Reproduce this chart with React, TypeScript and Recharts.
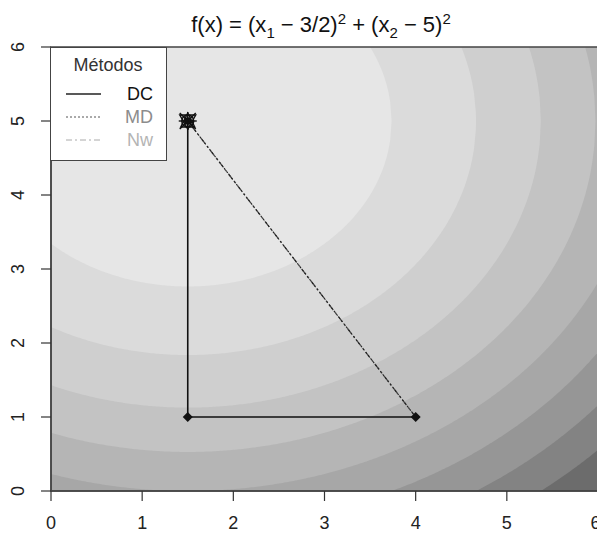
import { ComposedChart, Area, Line, Scatter, XAxis, YAxis, ReferenceArea } from 'recharts'

// f(x) = (x1 - 3/2)^2 + (x2 - 5)^2, filled contour bands every 5 units
const CENTER_X1 = 1.5
const CENTER_X2 = 5
const LEVELS = [5, 10, 15, 20, 25, 30, 35, 40, 45, 50]
const BAND_FILLS = ['#e6e6e6', '#dbdbdb', '#cfcfcf', '#c3c3c3', '#b5b5b5', '#a7a7a7', '#969696', '#838383', '#6c6c6c', '#4d4d4d']
const X_TICKS = [0, 1, 2, 3, 4, 5, 6]
const Y_TICKS = [0, 1, 2, 3, 4, 5, 6]

// iterates of each method
const DC_PATH = [{ x: 4, y: 1 }, { x: 1.5, y: 1 }, { x: 1.5, y: 5 }]
const MD_PATH = [{ x: 4, y: 1 }, { x: 1.5, y: 5 }]
const NW_PATH = [{ x: 4, y: 1 }, { x: 1.5, y: 5 }]
const STEP_POINTS = [{ x: 1.5, y: 1 }, { x: 4, y: 1 }]
const OPTIMUM = [{ x: 1.5, y: 5 }]

const FONT = '"Liberation Sans", Arial, sans-serif'

function levelRange(level: number, x: number): [number, number] | null {
  const d = level - (x - CENTER_X1) ** 2
  if (d < -1e-9) return null
  const r = Math.sqrt(Math.max(0, d))
  return [Math.max(0, CENTER_X2 - r), Math.min(6, CENTER_X2 + r)]
}

function buildContourRows() {
  const xs: number[] = []
  for (let i = 0; i <= 300; i++) xs.push(i / 50)
  for (const l of LEVELS) {
    const r = Math.sqrt(l)
    for (const e of [CENTER_X1 - r, CENTER_X1 + r]) if (e > 0 && e < 6) xs.push(e)
  }
  xs.sort((a, b) => a - b)
  return xs.map((x) => {
    const row: Record<string, number | [number, number] | null> = { x }
    for (const l of LEVELS) row[`l${l}`] = levelRange(l, x)
    return row
  })
}

const contourRows = buildContourRows()

function Diamond({ cx, cy }: { cx?: number; cy?: number }) {
  if (cx == null || cy == null) return null
  return <polygon points={`${cx},${cy - 5} ${cx + 5},${cy} ${cx},${cy + 5} ${cx - 5},${cy}`} fill="#111" />
}

function Optimum({ cx, cy }: { cx?: number; cy?: number }) {
  if (cx == null || cy == null) return null
  return (
    <g stroke="#111" strokeWidth={1.4} fill="none">
      <circle cx={cx} cy={cy} r={6} />
      <circle cx={cx} cy={cy} r={3} fill="#222" />
      <line x1={cx - 8} y1={cy - 8} x2={cx + 8} y2={cy + 8} />
      <line x1={cx - 8} y1={cy + 8} x2={cx + 8} y2={cy - 8} />
      <line x1={cx - 9} y1={cy} x2={cx + 9} y2={cy} />
      <line x1={cx} y1={cy - 9} x2={cx} y2={cy + 9} />
      <polygon points={`${cx - 8},${cy - 6} ${cx + 8},${cy - 6} ${cx},${cy + 8}`} />
      <polygon points={`${cx - 7},${cy + 6} ${cx + 7},${cy + 6} ${cx},${cy - 8}`} />
    </g>
  )
}

function YTick({ x, y, payload }: { x?: number; y?: number; payload?: { value: number } }) {
  return (
    <text
      transform={`translate(${(x ?? 0) - 15},${y}) rotate(-90)`}
      textAnchor="middle"
      fontSize={18}
      fontFamily={FONT}
      fill="#222"
    >
      {payload?.value}
    </text>
  )
}

function LegendBox() {
  const rows = [
    { label: 'DC', color: '#111', stroke: '#222', dash: undefined },
    { label: 'MD', color: '#8c8c8c', stroke: '#555', dash: '2 2' },
    { label: 'Nw', color: '#b4b4b4', stroke: '#aaa', dash: '6 3 2 3' },
  ]
  return (
    <div
      style={{
        position: 'absolute', left: 50, top: 47, width: 117, height: 114, boxSizing: 'border-box',
        border: '1.5px solid #444', background: '#fff', fontFamily: FONT, fontSize: 18,
      }}
    >
      <div style={{ position: 'absolute', left: 0, width: 114, top: 7, textAlign: 'center', color: '#333' }}>Métodos</div>
      {rows.map((r, i) => (
        <div key={r.label} style={{ position: 'absolute', left: 0, top: 35 + i * 23, width: 114, height: 22 }}>
          <svg width={40} height={22} style={{ position: 'absolute', left: 15, top: 0 }}>
            <line x1={0} y1={11} x2={35} y2={11} stroke={r.stroke} strokeWidth={r.dash ? 1 : 1.6} strokeDasharray={r.dash} />
          </svg>
          <span style={{ position: 'absolute', right: 12, top: 0, color: r.color, lineHeight: '22px' }}>{r.label}</span>
        </div>
      ))}
    </div>
  )
}

export default function App() {
  return (
    <div style={{ position: 'absolute', left: 0, top: 0, width: 597, height: 533, overflow: 'hidden', background: '#fff' }}>
      <ComposedChart width={600} height={533} data={contourRows} margin={{ top: 47, right: 2, bottom: 0, left: 0 }}>
        <XAxis
          dataKey="x"
          type="number"
          domain={[0, 6]}
          ticks={X_TICKS}
          allowDataOverflow
          height={42}
          tickSize={10}
          tickMargin={15}
          axisLine={{ stroke: '#444', strokeWidth: 1.5 }}
          tickLine={{ stroke: '#333', strokeWidth: 1.2 }}
          tick={{ fontSize: 18, fill: '#222', fontFamily: FONT }}
        />
        <YAxis
          type="number"
          domain={[0, 6]}
          ticks={Y_TICKS}
          allowDataOverflow
          width={51}
          tickSize={10}
          axisLine={{ stroke: '#444', strokeWidth: 1.5 }}
          tickLine={{ stroke: '#333', strokeWidth: 1.2 }}
          tick={<YTick />}
        />
        {[...LEVELS].reverse().map((l) => (
          <Area
            key={l}
            dataKey={`l${l}`}
            type="linear"
            stroke="none"
            fill={BAND_FILLS[LEVELS.indexOf(l)]}
            fillOpacity={1}
            dot={false}
            activeDot={false}
            isAnimationActive={false}
          />
        ))}
        <ReferenceArea x1={0} x2={6} y1={0} y2={6} fill="none" stroke="#444" strokeWidth={1.5} ifOverflow="visible" />
        <Line data={NW_PATH} dataKey="y" type="linear" stroke="#444" strokeWidth={1.3} strokeDasharray="7 3 2 3" dot={false} activeDot={false} isAnimationActive={false} />
        <Line data={MD_PATH} dataKey="y" type="linear" stroke="#222" strokeWidth={1.1} strokeDasharray="2 2" dot={false} activeDot={false} isAnimationActive={false} />
        <Line data={DC_PATH} dataKey="y" type="linear" stroke="#111" strokeWidth={1.6} dot={false} activeDot={false} isAnimationActive={false} />
        <Scatter data={STEP_POINTS} dataKey="y" shape={<Diamond />} isAnimationActive={false} />
        <Scatter data={OPTIMUM} dataKey="y" shape={<Optimum />} isAnimationActive={false} />
      </ComposedChart>
      <div
        style={{
          position: 'absolute', left: 0, width: 642, top: 10, textAlign: 'center',
          fontFamily: FONT, fontSize: 22, color: '#111', whiteSpace: 'nowrap',
        }}
      >
        f(x) = (x<sub style={{ fontSize: 15 }}>1</sub> − 3/2)<sup style={{ fontSize: 15 }}>2</sup> + (x<sub style={{ fontSize: 15 }}>2</sub> − 5)<sup style={{ fontSize: 15 }}>2</sup>
      </div>
      <LegendBox />
    </div>
  )
}
